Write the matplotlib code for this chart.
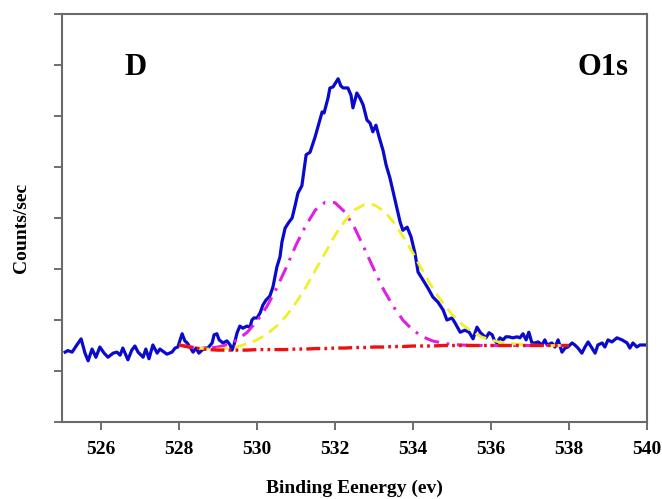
import numpy as np
import matplotlib
matplotlib.use("Agg")
import matplotlib.pyplot as plt

plt.rcParams['font.family'] = ['Liberation Serif', 'DejaVu Serif']
plt.rcParams['lines.scale_dashes'] = False

# ---- data (binding energy in eV, counts in axis units 0..8) ----
energy = [525.08, 525.15, 525.26, 525.38, 525.49, 525.59, 525.67, 525.77, 525.87, 525.97,
          526.08, 526.18, 526.31, 526.41, 526.49, 526.56, 526.69, 526.79, 526.87, 526.95,
          527.08, 527.15, 527.23, 527.33, 527.44, 527.51, 527.62, 527.69, 527.82, 527.90,
          527.97, 528.08, 528.15, 528.21, 528.28, 528.36, 528.44, 528.51, 528.59, 528.67,
          528.74, 528.85, 528.90, 528.97, 529.03, 529.13, 529.23, 529.31, 529.36, 529.41,
          529.49, 529.56, 529.64, 529.74, 529.82, 529.87, 529.92, 530.00, 530.08, 530.15,
          530.23, 530.33, 530.41, 530.46, 530.51, 530.59, 530.64, 530.72, 530.82, 530.90,
          530.97, 531.05, 531.15, 531.26, 531.36, 531.49, 531.56, 531.67, 531.72, 531.82,
          531.87, 531.95, 532.08, 532.15, 532.21, 532.33, 532.41, 532.46, 532.56, 532.64,
          532.72, 532.82, 532.90, 532.97, 533.05, 533.13, 533.23, 533.31, 533.41, 533.54,
          533.67, 533.74, 533.85, 533.95, 534.05, 534.13, 534.26, 534.38, 534.51, 534.64,
          534.77, 534.87, 535.00, 535.08, 535.21, 535.33, 535.44, 535.54, 535.64, 535.72,
          535.79, 535.87, 535.95, 536.03, 536.08, 536.15, 536.23, 536.31, 536.38, 536.46,
          536.56, 536.67, 536.74, 536.82, 536.90, 536.97, 537.05, 537.13, 537.21, 537.31,
          537.38, 537.44, 537.56, 537.64, 537.72, 537.82, 537.90, 537.97, 538.08, 538.15,
          538.23, 538.33, 538.41, 538.49, 538.59, 538.67, 538.74, 538.85, 538.92, 539.00,
          539.10, 539.23, 539.36, 539.49, 539.56, 539.64, 539.74, 539.82, 539.95]
counts = [1.37, 1.40, 1.37, 1.51, 1.63, 1.35, 1.20, 1.43, 1.27, 1.47,
          1.35, 1.27, 1.35, 1.37, 1.31, 1.45, 1.22, 1.41, 1.49, 1.37,
          1.27, 1.43, 1.24, 1.51, 1.35, 1.43, 1.37, 1.33, 1.37, 1.45,
          1.47, 1.73, 1.59, 1.55, 1.47, 1.37, 1.45, 1.35, 1.41, 1.45,
          1.45, 1.55, 1.71, 1.73, 1.61, 1.55, 1.59, 1.51, 1.41, 1.51,
          1.75, 1.88, 1.84, 1.88, 1.86, 2.00, 2.04, 2.04, 2.14, 2.29,
          2.39, 2.47, 2.65, 2.84, 3.04, 3.24, 3.53, 3.80, 3.92, 4.00,
          4.22, 4.49, 4.63, 5.24, 5.29, 5.59, 5.78, 6.08, 6.06, 6.35,
          6.55, 6.57, 6.73, 6.59, 6.55, 6.55, 6.41, 6.16, 6.45, 6.35,
          6.22, 5.92, 5.86, 5.69, 5.82, 5.59, 5.33, 5.04, 4.78, 4.35,
          3.92, 3.76, 3.82, 3.63, 3.31, 2.94, 2.78, 2.63, 2.45, 2.35,
          2.20, 2.00, 2.04, 1.94, 1.76, 1.80, 1.76, 1.63, 1.86, 1.76,
          1.71, 1.65, 1.75, 1.71, 1.61, 1.55, 1.65, 1.61, 1.67, 1.67,
          1.65, 1.67, 1.65, 1.73, 1.61, 1.76, 1.55, 1.55, 1.57, 1.51,
          1.61, 1.51, 1.55, 1.47, 1.61, 1.37, 1.45, 1.47, 1.55, 1.51,
          1.45, 1.35, 1.47, 1.57, 1.45, 1.35, 1.51, 1.55, 1.47, 1.61,
          1.57, 1.65, 1.61, 1.55, 1.45, 1.55, 1.47, 1.51, 1.51]

fit_energy = [528.00, 528.25, 528.50, 528.75, 529.00, 529.25, 529.50, 529.75,
              530.00, 530.25, 530.50, 530.75, 531.00, 531.25, 531.50, 531.75,
              532.00, 532.25, 532.50, 532.75, 533.00, 533.25, 533.50, 533.75,
              534.00, 534.25, 534.50, 534.75, 535.00, 535.25, 535.50, 535.75,
              536.00, 536.25, 536.50, 536.75, 537.00, 537.25, 537.50, 537.75, 538.00]
peak1 = [1.51, 1.48, 1.45, 1.45, 1.47, 1.52, 1.61, 1.76,
         1.98, 2.26, 2.62, 3.03, 3.47, 3.85, 4.16, 4.31,
         4.30, 4.12, 3.81, 3.41, 2.99, 2.59, 2.26, 1.99,
         1.80, 1.67, 1.59, 1.55, 1.52, 1.51, 1.50, 1.50,
         1.50, 1.50, 1.50, 1.50, 1.50, 1.50, 1.50, 1.50, 1.50]
peak2 = [1.51, 1.47, 1.45, 1.43, 1.43, 1.45, 1.48, 1.53,
         1.61, 1.72, 1.88, 2.08, 2.34, 2.64, 2.98, 3.32,
         3.66, 3.94, 4.16, 4.26, 4.26, 4.14, 3.92, 3.63,
         3.31, 2.96, 2.63, 2.35, 2.11, 1.92, 1.78, 1.67,
         1.61, 1.56, 1.54, 1.52, 1.51, 1.50, 1.50, 1.50, 1.50]
background = [1.51, 1.47, 1.44, 1.42, 1.41, 1.41, 1.41, 1.41,
              1.42, 1.42, 1.42, 1.42, 1.43, 1.43, 1.44, 1.44,
              1.45, 1.45, 1.46, 1.46, 1.47, 1.47, 1.48, 1.48,
              1.49, 1.49, 1.49, 1.50, 1.50, 1.50, 1.50, 1.50,
              1.50, 1.50, 1.50, 1.50, 1.50, 1.50, 1.50, 1.50, 1.50]

x_ticks = [526, 528, 530, 532, 534, 536, 538, 540]

# ---- figure ----
fig = plt.figure(figsize=(6.62, 4.99), dpi=100)
W, H = 662, 499
ax = fig.add_axes([62 / W, (H - 422) / H, (647 - 62) / W, (422 - 14) / H])

ax.plot(energy, counts, color='#0a0acc', lw=2.3, zorder=2)
ax.plot(fit_energy, peak1, color='#e21ee2', lw=2.2,
        linestyle=(0, (11, 5.5, 2, 5.5)), zorder=3)
ax.plot(fit_energy, peak2, color='#f0f028', lw=2.0,
        linestyle=(0, (8.5, 5)), zorder=3)
ax.plot(fit_energy, background, color='#ee1010', lw=2.4,
        linestyle=(0, (10, 3, 2, 3, 2, 3)), zorder=4)

ax.set_xlim(525, 540)
ax.set_ylim(0, 8)
ax.set_xticks(x_ticks)
ax.set_xticklabels([str(t) for t in x_ticks], fontsize=14, fontweight='bold')
ax.set_yticks(range(0, 9))
ax.set_yticklabels([])
ax.tick_params(direction='out', length=6, width=1.2, color='#555555', pad=8)

for s in ax.spines.values():
    s.set_color('#6a6a6a')
    s.set_linewidth(1.5)

ax.text(0.125, 0.87, 'D', transform=ax.transAxes, fontsize=22,
        fontweight='bold', ha='center', va='center')
ax.text(0.925, 0.87, 'O1s', transform=ax.transAxes, fontsize=22,
        fontweight='bold', ha='center', va='center')

fig.text(354 / W, 1 - 488 / H, 'Binding Eenergy (ev)', fontsize=14,
         fontweight='bold', ha='center', va='center')
fig.text(22 / W, 1 - 228 / H, 'Counts/sec', fontsize=14, fontweight='bold',
         ha='center', va='center', rotation=90)

fig.savefig('out.png', dpi=100)
